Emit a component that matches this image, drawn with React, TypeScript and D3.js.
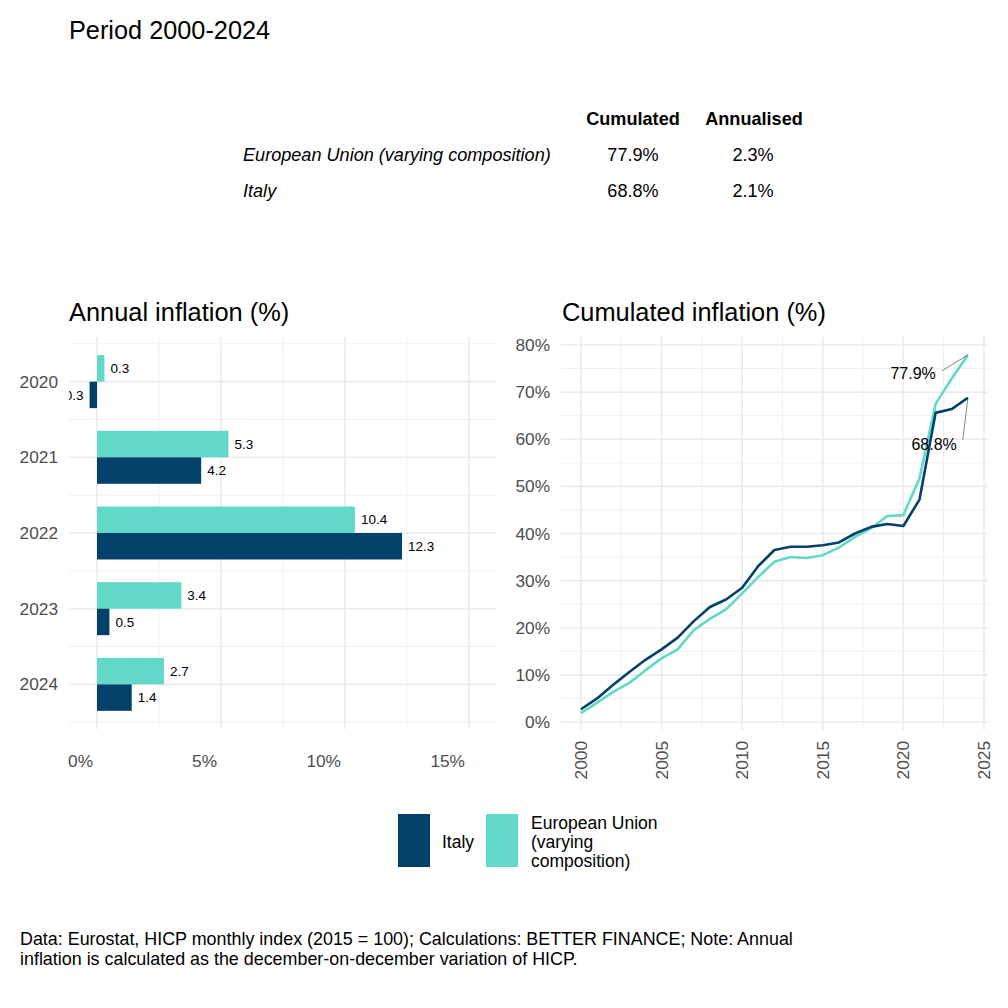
import React from "react";
import * as d3 from "d3";

const ITALY_COLOR = "#03416B";
const EU_COLOR = "#62D9C8";
const GRID = "#EBEBEB";
const TICK = "#4D4D4D";
const FONT = "'Liberation Sans', Arial, Helvetica, sans-serif";

// Summary table
const tableHeaders = ["Cumulated", "Annualised"];
const tableRows = ["European Union (varying composition)", "Italy"];
const tableCumulated = ["77.9%", "68.8%"];
const tableAnnualised = ["2.3%", "2.1%"];

// Annual inflation (bar chart)
const barYears = [2020, 2021, 2022, 2023, 2024];
const barItaly = [-0.3, 4.2, 12.3, 0.5, 1.4];
const barEU = [0.3, 5.3, 10.4, 3.4, 2.7];
const barXTicks = [0, 5, 10, 15];
const barXMinor = [2.5, 7.5, 12.5];

// Cumulated inflation (line chart)
const lineYears = [
  2000, 2001, 2002, 2003, 2004, 2005, 2006, 2007, 2008, 2009, 2010, 2011, 2012,
  2013, 2014, 2015, 2016, 2017, 2018, 2019, 2020, 2021, 2022, 2023, 2024,
];
const cumItaly = [
  2.7, 5.0, 7.9, 10.6, 13.2, 15.4, 17.9, 21.4, 24.4, 26.0, 28.5, 33.1, 36.5,
  37.2, 37.2, 37.5, 38.1, 40.0, 41.4, 42.0, 41.6, 47.2, 65.6, 66.4, 68.8,
];
const cumEU = [
  1.9, 4.1, 6.4, 8.3, 11.0, 13.5, 15.4, 19.5, 21.9, 23.9, 27.3, 30.8, 34.0,
  35.0, 34.8, 35.4, 37.0, 39.3, 41.1, 43.7, 43.9, 51.7, 67.5, 72.9, 77.9,
];
const lineXTicks = [2000, 2005, 2010, 2015, 2020, 2025];
const lineXMinor = [2002.5, 2007.5, 2012.5, 2017.5, 2022.5];
const lineYTicks = [0, 10, 20, 30, 40, 50, 60, 70, 80];
const lineYMinor = [5, 15, 25, 35, 45, 55, 65, 75];

const legendLabels = ["Italy", "European Union (varying composition)"];
const captionLines = [
  "Data: Eurostat, HICP monthly index (2015 = 100); Calculations: BETTER FINANCE; Note: Annual",
  "inflation is calculated as the december-on-december variation of HICP.",
];

export default function App() {
  // Bar chart geometry
  const bp = { left: 69, right: 496, top: 337, bottom: 729 };
  const bx = d3.scaleLinear().domain([-1.13, 16.09]).range([bp.left, bp.right]);
  const by = d3.scaleLinear().domain([2019.41, 2024.59]).range([bp.top, bp.bottom]);
  const half = 0.35;

  // Line chart geometry
  const lp = { left: 561, right: 988, top: 337, bottom: 730 };
  const lx = d3.scaleLinear().domain([1998.76, 2025.25]).range([lp.left, lp.right]);
  const ly = d3.scaleLinear().domain([-1.7, 81.7]).range([lp.bottom, lp.top]);
  const line = d3
    .line<number>()
    .x((_, i) => lx(lineYears[i]))
    .y((d) => ly(d));

  const lastIdx = lineYears.length - 1;
  const euEnd = { x: lx(lineYears[lastIdx]), y: ly(cumEU[lastIdx]) };
  const itEnd = { x: lx(lineYears[lastIdx]), y: ly(cumItaly[lastIdx]) };

  return (
    <svg
      width={1008}
      height={1008}
      style={{ position: "absolute", left: 0, top: 0, background: "#fff" }}
      fontFamily={FONT}
    >
      <defs>
        <clipPath id="barclip">
          <rect x={bp.left} y={bp.top} width={bp.right - bp.left} height={bp.bottom - bp.top} />
        </clipPath>
      </defs>
      <rect width={1008} height={1008} fill="#fff" />

      {/* Title */}
      <text x={69} y={39} fontSize={25.3} fill="#000">
        Period 2000-2024
      </text>

      {/* Table */}
      {tableHeaders.map((h, i) => (
        <text key={h} x={[633, 754][i]} y={125} fontSize={18.1} fontWeight="bold" textAnchor="middle">
          {h}
        </text>
      ))}
      {tableRows.map((r, i) => (
        <g key={r}>
          <text x={243} y={161 + i * 36} fontSize={18.1} fontStyle="italic">
            {r}
          </text>
          <text x={633} y={161 + i * 36} fontSize={18.1} textAnchor="middle">
            {tableCumulated[i]}
          </text>
          <text x={753} y={161 + i * 36} fontSize={18.1} textAnchor="middle">
            {tableAnnualised[i]}
          </text>
        </g>
      ))}

      {/* Panel titles */}
      <text x={69} y={321} fontSize={25.4}>
        Annual inflation (%)
      </text>
      <text x={562} y={321} fontSize={25.4}>
        Cumulated inflation (%)
      </text>

      {/* Bar chart grid */}
      {barXMinor.map((v) => (
        <line key={"bxm" + v} x1={bx(v)} x2={bx(v)} y1={bp.top} y2={bp.bottom} stroke={GRID} strokeWidth={0.8} />
      ))}
      {barYears.map((y) => (
        <line key={"bym" + y} x1={bp.left} x2={bp.right} y1={by(y - 0.5)} y2={by(y - 0.5)} stroke={GRID} strokeWidth={0.8} />
      ))}
      <line x1={bp.left} x2={bp.right} y1={by(2024.5)} y2={by(2024.5)} stroke={GRID} strokeWidth={0.8} />
      {barXTicks.map((v) => (
        <line key={"bx" + v} x1={bx(v)} x2={bx(v)} y1={bp.top} y2={bp.bottom} stroke={GRID} strokeWidth={1.6} />
      ))}
      {barYears.map((y) => (
        <line key={"by" + y} x1={bp.left} x2={bp.right} y1={by(y)} y2={by(y)} stroke={GRID} strokeWidth={1.6} />
      ))}

      {/* Bars */}
      <g clipPath="url(#barclip)">
        {barYears.map((yr, i) => {
          const eu = barEU[i];
          const it = barItaly[i];
          return (
            <g key={"bar" + yr}>
              <rect
                x={Math.min(bx(0), bx(eu))}
                y={by(yr - half)}
                width={Math.abs(bx(eu) - bx(0))}
                height={by(yr) - by(yr - half)}
                fill={EU_COLOR}
              />
              <rect
                x={Math.min(bx(0), bx(it))}
                y={by(yr)}
                width={Math.abs(bx(it) - bx(0))}
                height={by(yr + half) - by(yr)}
                fill={ITALY_COLOR}
              />
              <text
                x={eu >= 0 ? bx(eu) + 6 : bx(eu) - 6}
                y={by(yr - half / 2)}
                dy="0.35em"
                fontSize={13.5}
                textAnchor={eu >= 0 ? "start" : "end"}
              >
                {eu.toFixed(1)}
              </text>
              <text
                x={it >= 0 ? bx(it) + 6 : bx(it) - 6}
                y={by(yr + half / 2)}
                dy="0.35em"
                fontSize={13.5}
                textAnchor={it >= 0 ? "start" : "end"}
              >
                {it.toFixed(1)}
              </text>
            </g>
          );
        })}
      </g>

      {/* Bar chart axes labels */}
      {barXTicks.map((v) => (
        <text key={"bxl" + v} x={bx(v) - 4} y={767} fontSize={17.3} fill={TICK} textAnchor="end">
          {v + "%"}
        </text>
      ))}
      {barYears.map((y) => (
        <text key={"byl" + y} x={58} y={by(y)} dy="0.35em" fontSize={17.3} fill={TICK} textAnchor="end">
          {y}
        </text>
      ))}

      {/* Line chart grid */}
      {lineXMinor.map((v) => (
        <line key={"lxm" + v} x1={lx(v)} x2={lx(v)} y1={lp.top} y2={lp.bottom} stroke={GRID} strokeWidth={0.8} />
      ))}
      {lineYMinor.map((v) => (
        <line key={"lym" + v} x1={lp.left} x2={lp.right} y1={ly(v)} y2={ly(v)} stroke={GRID} strokeWidth={0.8} />
      ))}
      {lineXTicks.map((v) => (
        <line key={"lx" + v} x1={lx(v)} x2={lx(v)} y1={lp.top} y2={lp.bottom} stroke={GRID} strokeWidth={1.6} />
      ))}
      {lineYTicks.map((v) => (
        <line key={"ly" + v} x1={lp.left} x2={lp.right} y1={ly(v)} y2={ly(v)} stroke={GRID} strokeWidth={1.6} />
      ))}

      {/* Lines */}
      <path d={line(cumEU) || ""} fill="none" stroke={EU_COLOR} strokeWidth={2.6} strokeLinejoin="round" />
      <path d={line(cumItaly) || ""} fill="none" stroke={ITALY_COLOR} strokeWidth={2.6} strokeLinejoin="round" />

      {/* End labels */}
      <line x1={euEnd.x - 26} y1={euEnd.y + 16} x2={euEnd.x} y2={euEnd.y} stroke="#333" strokeWidth={0.6} />
      <text x={euEnd.x - 32} y={euEnd.y + 24} fontSize={16} textAnchor="end">
        {cumEU[lastIdx].toFixed(1) + "%"}
      </text>
      <line x1={itEnd.x - 5} y1={itEnd.y + 42} x2={itEnd.x} y2={itEnd.y} stroke="#333" strokeWidth={0.6} />
      <text x={itEnd.x - 11} y={itEnd.y + 52} fontSize={16} textAnchor="end">
        {cumItaly[lastIdx].toFixed(1) + "%"}
      </text>

      {/* Line chart axis labels */}
      {lineYTicks.map((v) => (
        <text key={"lyl" + v} x={550} y={ly(v)} dy="0.35em" fontSize={17.3} fill={TICK} textAnchor="end">
          {v + "%"}
        </text>
      ))}
      {lineXTicks.map((v) => (
        <text
          key={"lxl" + v}
          transform={`translate(${lx(v)},741) rotate(-90)`}
          dy="0.35em"
          fontSize={17.3}
          fill={TICK}
          textAnchor="end"
        >
          {v}
        </text>
      ))}

      {/* Legend */}
      <rect x={398} y={814} width={32} height={53} fill={ITALY_COLOR} />
      <text x={442} y={848} fontSize={17.5}>
        {legendLabels[0]}
      </text>
      <rect x={486} y={814} width={32} height={53} fill={EU_COLOR} />
      <text x={531} y={829} fontSize={17.5}>
        <tspan x={531}>European Union</tspan>
        <tspan x={531} dy={19}>(varying</tspan>
        <tspan x={531} dy={19}>composition)</tspan>
      </text>

      {/* Caption */}
      {captionLines.map((c, i) => (
        <text key={"cap" + i} x={20} y={945 + i * 19.5} fontSize={17.9}>
          {c}
        </text>
      ))}
    </svg>
  );
}
